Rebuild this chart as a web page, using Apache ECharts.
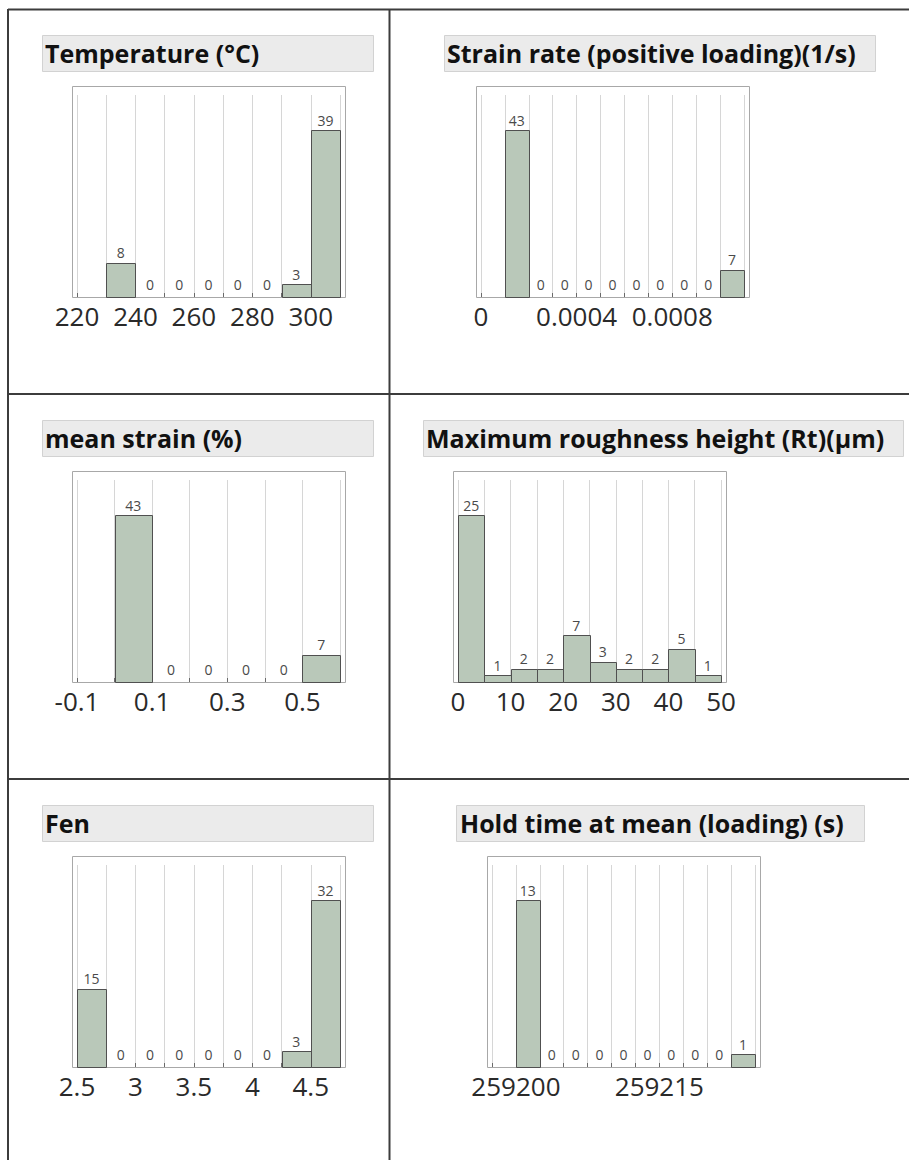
<!DOCTYPE html>
<html>
<head>
<meta charset="utf-8">
<script src="https://cdn.jsdelivr.net/npm/echarts@6/dist/echarts.min.js"></script>
<style>
html,body{margin:0;padding:0;background:#fff;}
#c{width:909px;height:1160px;}
</style>
</head>
<body>
<div id="c"></div>
<script>
// ---------------- DATA ----------------
const tempTitle = 'Temperature (°C)';
const tempBins = [230, 240, 250, 260, 270, 280, 290, 300];
const tempCounts = [8, 0, 0, 0, 0, 0, 3, 39];
const tempBinWidth = 10;
const tempRange = [220, 310];
const tempTicks = ['220', '240', '260', '280', '300'];

const rateTitle = 'Strain rate (positive loading)(1/s)';
const rateBins = [0.0001, 0.0002, 0.0003, 0.0004, 0.0005, 0.0006, 0.0007, 0.0008, 0.0009, 0.0010];
const rateCounts = [43, 0, 0, 0, 0, 0, 0, 0, 0, 7];
const rateBinWidth = 0.0001;
const rateRange = [0, 0.0011];
const rateTicks = ['0', '0.0004', '0.0008'];

const meanTitle = 'mean strain (%)';
const meanBins = [0.0, 0.1, 0.2, 0.3, 0.4, 0.5];
const meanCounts = [43, 0, 0, 0, 0, 7];
const meanBinWidth = 0.1;
const meanRange = [-0.1, 0.6];
const meanTicks = ['-0.1', '0.1', '0.3', '0.5'];

const roughTitle = 'Maximum roughness height (Rt)(µm)';
const roughBins = [0, 5, 10, 15, 20, 25, 30, 35, 40, 45];
const roughCounts = [25, 1, 2, 2, 7, 3, 2, 2, 5, 1];
const roughBinWidth = 5;
const roughRange = [0, 50];
const roughTicks = ['0', '10', '20', '30', '40', '50'];

const fenTitle = 'Fen';
const fenBins = [2.5, 2.75, 3.0, 3.25, 3.5, 3.75, 4.0, 4.25, 4.5];
const fenCounts = [15, 0, 0, 0, 0, 0, 0, 3, 32];
const fenBinWidth = 0.25;
const fenRange = [2.5, 4.75];
const fenTicks = ['2.5', '3', '3.5', '4', '4.5'];

const holdTitle = 'Hold time at mean (loading) (s)';
const holdBins = [259200, 259202.5, 259205, 259207.5, 259210, 259212.5, 259215, 259217.5, 259220, 259222.5];
const holdCounts = [13, 0, 0, 0, 0, 0, 0, 0, 0, 1];
const holdBinWidth = 2.5;
const holdRange = [259197.5, 259225];
const holdTicks = ['259200', '259215'];

// ---------------- LAYOUT ----------------
const FONT = '"Open Sans", "Noto Sans", sans-serif';
const panels = [
  {title: tempTitle, bins: tempBins, counts: tempCounts, bw: tempBinWidth, range: tempRange, ticks: tempTicks,
   lay: {boxX: 42, boxW: 331, textX: 45, dataX: 77, row: 0}},
  {title: rateTitle, bins: rateBins, counts: rateCounts, bw: rateBinWidth, range: rateRange, ticks: rateTicks,
   lay: {boxX: 444, boxW: 431, textX: 447, dataX: 481, row: 0}},
  {title: meanTitle, bins: meanBins, counts: meanCounts, bw: meanBinWidth, range: meanRange, ticks: meanTicks,
   lay: {boxX: 42, boxW: 331, textX: 45, dataX: 77, row: 385}},
  {title: roughTitle, bins: roughBins, counts: roughCounts, bw: roughBinWidth, range: roughRange, ticks: roughTicks,
   lay: {boxX: 423, boxW: 480, textX: 426, dataX: 458, row: 385}},
  {title: fenTitle, bins: fenBins, counts: fenCounts, bw: fenBinWidth, range: fenRange, ticks: fenTicks,
   lay: {boxX: 42, boxW: 331, textX: 45, dataX: 77, row: 770}},
  {title: holdTitle, bins: holdBins, counts: holdCounts, bw: holdBinWidth, range: holdRange, ticks: holdTicks,
   lay: {boxX: 456, boxW: 408, textX: 460, dataX: 492, row: 770}}
];

const DATA_W = 263, DATA_TOP = 95, DATA_H = 202, FRAME_TOP = 86, FRAME_H = 211, PAD = 5;
const BAR_FILL = '#b9c8b9', BAR_STROKE = '#505050';

const grid = [], xAxis = [], yAxis = [], series = [], graphic = [];

// table lines
const lineStyle = {stroke: '#3c3c3c', lineWidth: 2};
graphic.push({type: 'line', shape: {x1: 8, y1: 9.5, x2: 909, y2: 9.5}, style: lineStyle, silent: true});
graphic.push({type: 'line', shape: {x1: 8, y1: 394, x2: 909, y2: 394}, style: lineStyle, silent: true});
graphic.push({type: 'line', shape: {x1: 8, y1: 779, x2: 909, y2: 779}, style: lineStyle, silent: true});
graphic.push({type: 'line', shape: {x1: 8, y1: 9, x2: 8, y2: 1160}, style: lineStyle, silent: true});
graphic.push({type: 'line', shape: {x1: 389.5, y1: 9, x2: 389.5, y2: 1160}, style: lineStyle, silent: true});

panels.forEach((p, i) => {
  const L = p.lay;
  // title box
  graphic.push({type: 'rect', shape: {x: L.boxX + 0.5, y: 35.5 + L.row, width: L.boxW, height: 36},
    style: {fill: '#ebebeb', stroke: '#d2d2d2', lineWidth: 1}, silent: true, z: 1});
  graphic.push({type: 'text', x: L.textX, y: 53 + L.row,
    style: {text: p.title, fill: '#111111', fontSize: 25, fontWeight: 'bold', fontFamily: FONT,
      verticalAlign: 'middle', align: 'left'}, silent: true, z: 2});

  const gi = grid.length;
  // frame grid
  grid.push({left: L.dataX - PAD + 0.5, top: FRAME_TOP + L.row + 0.5, width: DATA_W + 2 * PAD, height: FRAME_H,
    show: true, borderColor: '#a8a8a8', borderWidth: 1, backgroundColor: 'transparent', outerBoundsMode: 'none'});
  xAxis.push({gridIndex: gi, type: 'value', show: false, min: 0, max: 1});
  yAxis.push({gridIndex: gi, type: 'value', show: false, min: 0, max: 1});
  // data grid
  grid.push({left: L.dataX, top: DATA_TOP + L.row, width: DATA_W, height: DATA_H, show: false, outerBoundsMode: 'none'});
  const ticks = p.ticks, bw = p.bw;
  xAxis.push({gridIndex: gi + 1, type: 'value', min: p.range[0], max: p.range[1], interval: bw,
    axisLine: {show: false},
    axisTick: {show: true, inside: true, length: 4, lineStyle: {color: '#6a6a6a'}},
    splitLine: {show: true, lineStyle: {color: '#d6d6d6', width: 1}},
    axisLabel: {show: true, margin: 6, color: '#2a2a2a', fontSize: 26, fontFamily: FONT,
      showMinLabel: true, showMaxLabel: true,
      formatter: v => { const t = ticks.find(s => Math.abs(Number(s) - v) < bw * 1e-3); return t || ''; }}
  });
  const maxC = Math.max.apply(null, p.counts);
  yAxis.push({gridIndex: gi + 1, type: 'value', min: 0, max: maxC * 1.21, show: false, splitLine: {show: false}});
  series.push({
    type: 'custom', xAxisIndex: xAxis.length - 1, yAxisIndex: yAxis.length - 1,
    encode: {x: [0, 1], y: 2},
    data: p.bins.map((b, k) => [b, b + bw, p.counts[k]]),
    renderItem: (params, api) => {
      const x0 = api.value(0), x1 = api.value(1), c = api.value(2);
      const a = api.coord([x0, c]);
      const b = api.coord([x1, 0]);
      const children = [];
      if (c > 0) {
        children.push({type: 'rect',
          shape: {x: Math.round(a[0]) + 0.5, y: Math.round(a[1]) + 0.5, width: Math.round(b[0]) - Math.round(a[0]), height: Math.round(b[1]) - Math.round(a[1])},
          style: {fill: BAR_FILL, stroke: BAR_STROKE, lineWidth: 1}});
      }
      children.push({type: 'text',
        style: {text: String(c), x: (a[0] + b[0]) / 2, y: a[1] - (c > 0 ? 3 : 6), align: 'center', verticalAlign: 'bottom',
          fill: '#4a4a4a', fontSize: 14, fontFamily: FONT}});
      return {type: 'group', children: children};
    },
    silent: true, animation: false
  });
});

const chart = echarts.init(document.getElementById('c'), null, {renderer: 'svg'});
chart.setOption({
  animation: false,
  backgroundColor: '#ffffff',
  grid: grid, xAxis: xAxis, yAxis: yAxis, series: series, graphic: graphic
});
</script>
</body>
</html>
